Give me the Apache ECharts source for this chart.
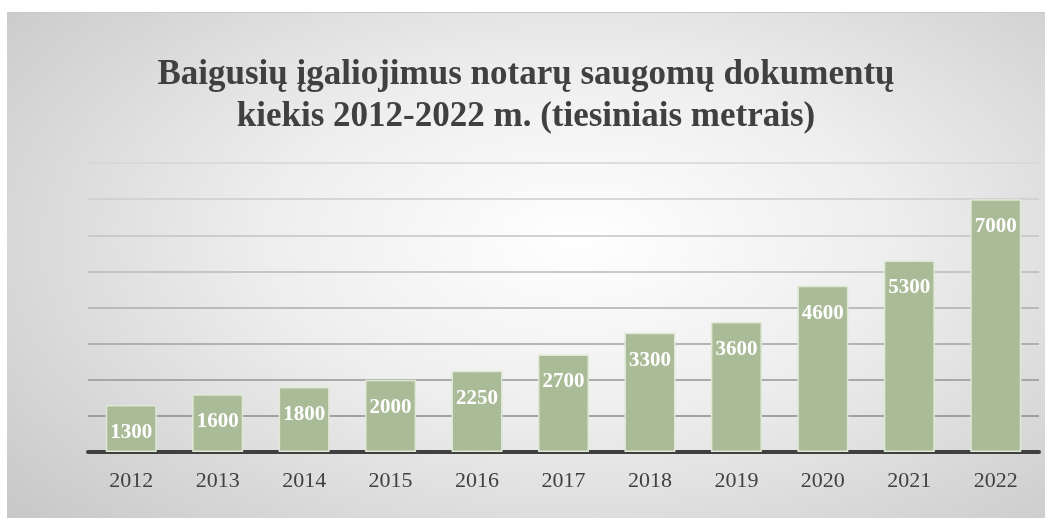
<!DOCTYPE html>
<html>
<head>
<meta charset="utf-8">
<script src="https://cdn.jsdelivr.net/npm/echarts@6/dist/echarts.min.js"></script>
<style>
  html, body { margin: 0; padding: 0; background: #fff; }
  #frame {
    position: absolute; left: 7px; top: 12px; width: 1038px; height: 506px;
    border-top: 1px solid #c9c9c9;
    background: radial-gradient(ellipse 75% 85% at 55% 45%, #ffffff 0%, #eeeeee 40%, #d6d6d6 75%, #c6c6c6 100%);
  }
  #chart { width: 1038px; height: 506px; }
</style>
</head>
<body>
<div id="frame"><div id="chart"></div></div>
<script>
// metai ir archyvo kiekis (tiesiniai metrai)
const years = ['2012', '2013', '2014', '2015', '2016', '2017', '2018', '2019', '2020', '2021', '2022']
const meters = [1300, 1600, 1800, 2000, 2250, 2700, 3300, 3600, 4600, 5300, 7000]

const titleText = 'Baigusių įgaliojimus notarų saugomų dokumentų\nkiekis 2012-2022 m. (tiesiniais metrais)'

const myChart = echarts.init(document.getElementById('chart'))

const option = {
  backgroundColor: 'transparent',
  animation: false,
  title: {
    text: titleText,
    left: 'center',
    top: 36,
    textStyle: {
      fontFamily: 'Liberation Serif',
      fontSize: 35,
      fontWeight: 'bold',
      color: '#404040',
      lineHeight: 42
    }
  },
  grid: {
    left: 81,
    right: 6,
    top: 150,
    bottom: 67
  },
  xAxis: {
    type: 'category',
    data: years,
    axisTick: { show: false },
    axisLine: {
      lineStyle: { color: '#404040', width: 4 }
    },
    axisLabel: {
      margin: 18,
      fontFamily: 'Liberation Serif',
      fontSize: 22,
      color: '#404040'
    }
  },
  yAxis: {
    type: 'value',
    min: 0,
    max: 8000,
    interval: 1000,
    axisLabel: { show: false },
    axisLine: { show: false },
    axisTick: { show: false },
    splitLine: {
      lineStyle: {
        width: 1.5,
        color: ['#808080', '#8a8a8a', '#959595', '#a0a0a0', '#acacac', '#b8b8b8', '#c3c3c3', '#cdcdcd', '#d6d6d6']
      }
    }
  },
  series: [
    {
      type: 'bar',
      data: meters,
      barWidth: '59%',
      itemStyle: {
        color: '#aabb97',
        borderColor: '#dfe8d5',
        borderWidth: 1.5
      },
      label: {
        show: true,
        position: 'insideTop',
        distance: 17,
        fontFamily: 'Liberation Serif',
        fontSize: 21,
        fontWeight: 'bold',
        color: '#ffffff'
      }
    }
  ]
}

myChart.setOption(option)
</script>
</body>
</html>
